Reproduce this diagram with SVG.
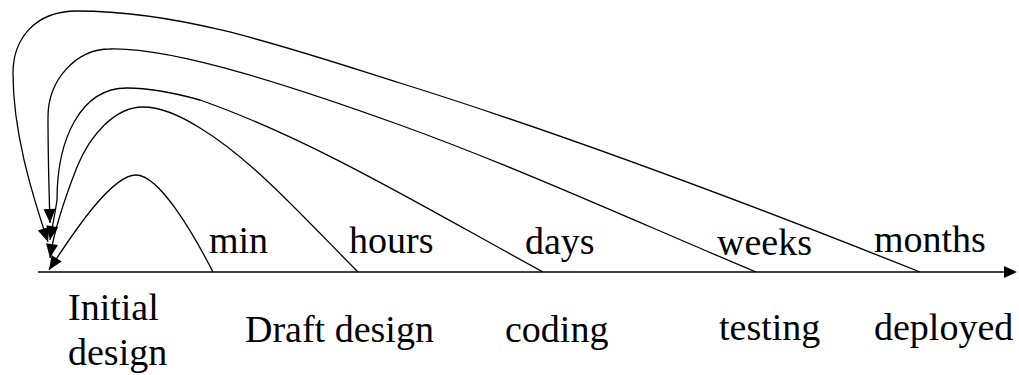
<svg xmlns="http://www.w3.org/2000/svg" width="1019" height="375" viewBox="0 0 1019 375">
<style>
.c{fill:none;stroke:#000;stroke-width:1.3;marker-end:url(#ah)}
.t{font-size:38px;fill:#000}
</style>
<defs>
<marker id="ah" markerWidth="14" markerHeight="12" refX="14" refY="6" orient="auto" markerUnits="userSpaceOnUse" overflow="visible">
<path d="M0,0 L14,6 L0,12 Z" fill="#000"/>
</marker>
</defs>
<rect width="1019" height="375" fill="#fff"/>
<g id="connectors">
<g id="axis">
<line x1="38" y1="272" x2="1006" y2="272" stroke="#000" stroke-width="1.4"/>
<path d="M1004,266 L1017,272 L1004,278 Z" fill="#000"/>
</g>
<path id="loop-months" class="c" d="M920,272 C747,203 573,137 400,83 C292,49 185,11 77,11 C34,11 13,40 13,73 C13,130 30,188 48,242"/>
<path id="loop-weeks" class="c" d="M756,272 C637,222 519,168 400,125 C303,90 175,47 110,49 C76,49 48,80 48,117 C48,160 49,190 50,223"/>
<path id="loop-days" class="c" d="M543,272 C429,210 314,140 200,100 C175,93 150,88 127,88 C80,88 57,140 57,200 C55,214 52,228 50,240"/>
<path id="loop-hours" class="c" d="M358,272 C305,219 253,160 200,128 C181,116 162,107 143,107 C115,107 90,135 77,167 C68,190 54,230 50,258"/>
<path id="loop-min" class="c" d="M213,272 C195,237 160,175 136,175 C112,175 75,230 49,270"/>
</g>
<g font-family="'Liberation Serif', 'DejaVu Serif', serif">
<g id="label-min"><text class="t" x="209" y="253">min</text></g>
<g id="label-hours"><text class="t" x="349" y="253">hours</text></g>
<g id="label-days"><text class="t" x="525" y="254">days</text></g>
<g id="label-weeks"><text class="t" x="717" y="255">weeks</text></g>
<g id="label-months"><text class="t" x="874" y="252">months</text></g>
<g id="node-initial"><text class="t" x="68" y="320">Initial</text><text class="t" x="68" y="365">design</text></g>
<g id="node-draft"><text class="t" x="245" y="342">Draft design</text></g>
<g id="node-coding"><text class="t" x="505" y="342">coding</text></g>
<g id="node-testing"><text class="t" x="719" y="340">testing</text></g>
<g id="node-deployed"><text class="t" x="874" y="340">deployed</text></g>
</g>
</svg>
